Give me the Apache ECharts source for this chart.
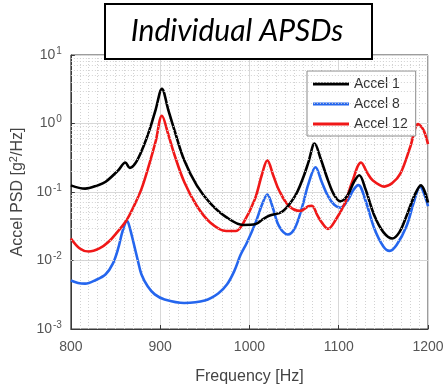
<!DOCTYPE html>
<html>
<head>
<meta charset="utf-8">
<script src="https://cdn.jsdelivr.net/npm/echarts@6/dist/echarts.min.js"></script>
<style>
html,body{margin:0;padding:0;background:#fff;}
#c{width:448px;height:390px;}
</style>
</head>
<body>
<div id="c"></div>
<script>
// ---- data ----
const accel1Freq = [800,816,830,839,853,861,866,872,880,888,895,902,909,916,927,941,956,974,993,1007,1015,1022,1037,1051,1060,1066,1073,1080,1088,1095,1102,1110,1117,1123,1130,1140,1150,1160,1168,1176,1185,1192,1200];
const accel1Psd  = [0.125,0.112,0.125,0.141,0.207,0.27,0.225,0.26,0.42,0.8,1.6,3.2,1.6,0.8,0.29,0.125,0.069,0.043,0.033,0.034,0.04,0.045,0.052,0.087,0.16,0.27,0.51,0.3,0.148,0.09,0.073,0.09,0.14,0.176,0.11,0.045,0.026,0.021,0.026,0.045,0.09,0.125,0.07];

const accel8Freq = [800,808,816,828,839,847,853,858,863,866,870,875,879,886,894,905,927,950,965,975,983,990,997,1007,1014,1020,1026,1033,1043,1051,1059,1066,1074,1081,1088,1095,1102,1110,1116,1122,1130,1140,1150,1157,1165,1176,1184,1191,1200];
const accel8Psd  = [0.0051,0.0047,0.0046,0.0052,0.0063,0.009,0.015,0.027,0.038,0.03,0.0186,0.01,0.0063,0.0042,0.0032,0.0027,0.0024,0.0026,0.0033,0.0045,0.007,0.012,0.018,0.036,0.065,0.092,0.06,0.032,0.024,0.03,0.06,0.13,0.23,0.14,0.087,0.065,0.059,0.075,0.105,0.126,0.075,0.029,0.016,0.0138,0.017,0.032,0.07,0.12,0.062];

const accel12Freq = [800,810,820,832,842,852,862,870,879,888,895,902,909,916,927,941,956,974,985,993,1006,1014,1020,1027,1033,1044,1057,1066,1070,1076,1081,1088,1097,1107,1115,1125,1132,1138,1151,1160,1169,1180,1189,1195,1200];
const accel12Psd  = [0.021,0.015,0.0135,0.015,0.0186,0.026,0.038,0.06,0.11,0.26,0.55,1.3,0.7,0.35,0.14,0.063,0.036,0.027,0.027,0.035,0.078,0.18,0.29,0.17,0.107,0.063,0.053,0.062,0.063,0.046,0.036,0.029,0.04,0.069,0.14,0.27,0.19,0.148,0.12,0.135,0.185,0.45,0.98,0.8,0.5];

const seriesNames = ['Accel 1','Accel 8','Accel 12'];
const xTicks = [800,900,1000,1100,1200];
const yDecades = [0.001,0.01,0.1,1,10];
const titleText = 'Individual APSDs';
const xAxisTitle = 'Frequency [Hz]';
const yAxisTitle = 'Accel PSD [g{sup|2}/Hz]';

// minor log grid values (2..9 within each decade)
const yMinor = [];
for (let d = 0; d < yDecades.length - 1; d++) {
  for (let m = 2; m <= 9; m++) yMinor.push(+(m * yDecades[d]).toPrecision(3));
}

function pairs(xs, ys){ return xs.map((x,i)=>[x, ys[i]]); }

const chart = echarts.init(document.getElementById('c'), null, {renderer:'canvas'});
const lineW = 2.6;
const option = {
  backgroundColor: '#fff',
  animation: false,
  grid: {left:65, right:20, top:55, bottom:54, show:true, borderColor:'#3a3a3a', borderWidth:1, backgroundColor:'#fff'},
  legend: {
    orient:'vertical', left:307, top:71,
    data: seriesNames,
    itemWidth:36, itemHeight:3, itemGap:6,
    padding:[6,8,5,6],
    backgroundColor:'#fff', borderColor:'#8a8a8a', borderWidth:1,
    textStyle:{fontFamily:'Liberation Sans', fontSize:14, color:'#333'},
    icon:'rect'
  },
  xAxis: {
    type:'value', min:800, max:1200, interval:100,
    axisLine:{show:true, lineStyle:{color:'#3a3a3a'}},
    axisTick:{show:true, inside:true, length:4, lineStyle:{color:'#3a3a3a'}},
    axisLabel:{fontFamily:'Liberation Sans', fontSize:14, color:'#555', margin:11,
      formatter: function(v){ return xTicks.indexOf(v) >= 0 ? String(v) : ''; }},
    splitLine:{show:true, lineStyle:{color:'#d8d8d8', width:1}},
    minorTick:{show:false, splitNumber:10},
    minorSplitLine:{show:true, lineStyle:{color:'#d2d2d2', type:[1,2], width:1}},
    name: xAxisTitle, nameLocation:'middle', nameGap:40,
    nameTextStyle:{fontFamily:'Liberation Sans', fontSize:16, color:'#444'}
  },
  yAxis: {
    type:'log', logBase:10, min:0.001, max:10, interval:1,
    axisLine:{show:true, lineStyle:{color:'#3a3a3a'}},
    axisTick:{show:true, inside:true, length:4, lineStyle:{color:'#3a3a3a'}},
    axisLabel:{
      margin:9, color:'#555',
      formatter: function(v){ const e = Math.round(Math.log10(v)); return '{b|10}{s|' + e + '}'; },
      rich:{
        b:{fontFamily:'Liberation Sans', fontSize:14, color:'#555'},
        s:{fontFamily:'Liberation Sans', fontSize:10, color:'#555', verticalAlign:'top', padding:[0,0,8,1]}
      }
    },
    splitLine:{show:true, lineStyle:{color:'#d8d8d8', width:1}},
    name: yAxisTitle, nameLocation:'middle', nameGap:43,
    nameTextStyle:{fontFamily:'Liberation Sans', fontSize:16, color:'#444',
      rich:{
        sup:{fontFamily:'Liberation Sans', fontSize:11, color:'#444', verticalAlign:'top', padding:[0,0,8,0]}
      }}
  },
  series: [
    {name:seriesNames[0], type:'line', data:pairs(accel1Freq, accel1Psd), smooth:0.35, showSymbol:false, symbol:'none',
     lineStyle:{color:'#000', width:lineW}, itemStyle:{color:'#000'}, z:4,
     markLine:{silent:true, symbol:'none', label:{show:false}, animation:false,
       lineStyle:{color:'#d2d2d2', type:[1,2], width:1},
       data: yMinor.map(v=>({yAxis:v}))}},
    {name:seriesNames[1], type:'line', data:pairs(accel8Freq, accel8Psd), smooth:0.35, showSymbol:false, symbol:'none',
     lineStyle:{color:'#2566ee', width:lineW}, itemStyle:{color:'#2566ee'}, z:3},
    {name:seriesNames[2], type:'line', data:pairs(accel12Freq, accel12Psd), smooth:0.35, showSymbol:false, symbol:'none',
     lineStyle:{color:'#f01818', width:lineW}, itemStyle:{color:'#f01818'}, z:3}
  ],
  graphic: [
    {type:'rect', left:104, top:3, shape:{width:267, height:55}, style:{fill:'#fff', stroke:'#000', lineWidth:2}, z:100},
    {type:'text', x:237, y:31, style:{text:titleText, fontFamily:'Lato', fontStyle:'italic', fontSize:30, fill:'#000', align:'center', verticalAlign:'middle'}, z:101}
  ]
};
chart.setOption(option);
</script>
</body>
</html>
